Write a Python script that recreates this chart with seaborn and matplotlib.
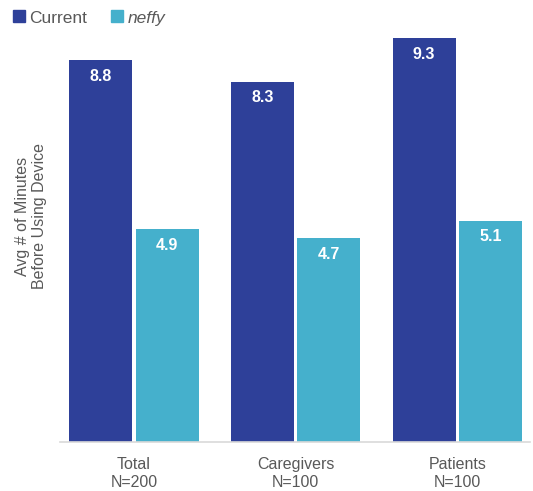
import matplotlib
matplotlib.use("Agg")
import matplotlib.pyplot as plt
import seaborn as sns
import pandas as pd
from matplotlib.lines import Line2D

groups = ["Total\nN=200", "Caregivers\nN=100", "Patients\nN=100"]
series = ["Current", "neffy"]
current_vals = [8.8, 8.3, 9.3]
neffy_vals = [4.9, 4.7, 5.1]
colors = ["#2E4099", "#45B0CC"]
ylabel = "Avg # of Minutes\nBefore Using Device"

df = pd.DataFrame({
    "group": groups * 2,
    "series": [series[0]] * 3 + [series[1]] * 3,
    "value": current_vals + neffy_vals,
})

sns.set_theme(style="white")
plt.rcParams["font.family"] = ["Liberation Sans", "DejaVu Sans"]

fig = plt.figure(figsize=(5.33, 4.91), dpi=100)
ax = fig.add_axes([60/533, 1-442/491, 470/533, 412/491])

sns.barplot(data=df, x="group", y="value", hue="series", palette=colors,
            width=0.82, gap=0.05, ax=ax, legend=False, saturation=1,
            edgecolor="none")

for cont in ax.containers:
    for bar in cont:
        h = bar.get_height()
        ax.text(bar.get_x() + bar.get_width()/2, h - 0.2, f"{h:.1f}",
                ha="center", va="top", color="white", fontsize=11.5, fontweight="bold")

ax.set_xlim(-0.458, 2.45)
ax.set_ylim(0, 9.49)
ax.set_yticks([])
ax.set_xlabel("")
ax.set_ylabel("")
fig.text(31/533, 1-216/491, ylabel, rotation=90, ha="center", va="center",
         multialignment="center", fontsize=11.5, color="#595959")
ax.tick_params(axis="x", labelsize=11.5, labelcolor="#595959", length=0, pad=11)
for s in ["top", "right", "left"]:
    ax.spines[s].set_visible(False)
ax.spines["bottom"].set_color("#D9D9D9")
ax.spines["bottom"].set_linewidth(1.2)

handles = [Line2D([], [], marker="s", linestyle="", color=c, markersize=8.5) for c in colors]
leg = fig.legend(handles, series, loc="upper left", bbox_to_anchor=(0.0, 1.0),
                 ncol=2, frameon=False, fontsize=12.5, handletextpad=0.1,
                 columnspacing=1.2, handlelength=1.0, borderaxespad=0.2)
for t in leg.get_texts():
    t.set_color("#595959")
leg.get_texts()[1].set_fontstyle("italic")

fig.savefig("out.png", dpi=100)
